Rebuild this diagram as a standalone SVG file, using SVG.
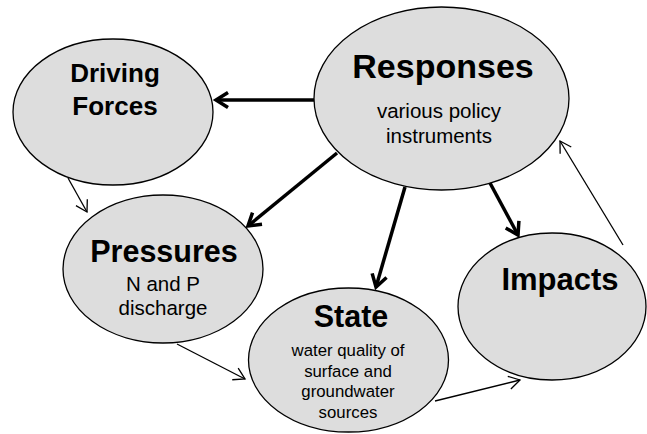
<svg xmlns="http://www.w3.org/2000/svg" width="647" height="434" viewBox="0 0 647 434">
<style>
.node{fill:#dddddd;stroke:#000;stroke-width:1.3}
.t{font-family:"Liberation Sans",Arial,sans-serif;font-weight:bold;fill:#000;text-anchor:middle}
.s{font-family:"Liberation Sans",Arial,sans-serif;fill:#000;text-anchor:middle}
.thick{stroke:#000;stroke-width:3.5;fill:none;marker-end:url(#ah)}
.thin{stroke:#000;stroke-width:1.3;fill:none;marker-end:url(#al)}
</style>
<defs>
<marker id="ah" markerUnits="userSpaceOnUse" viewBox="-16 -10 20 20" refX="0" refY="0" markerWidth="20" markerHeight="20" orient="auto">
<path d="M-12,-7.5 L0,0 L-12,7.5" fill="none" stroke="#000" stroke-width="3.5" stroke-linejoin="miter"/>
</marker>
<marker id="al" markerUnits="userSpaceOnUse" viewBox="-14 -10 18 20" refX="0" refY="0" markerWidth="18" markerHeight="20" orient="auto">
<path d="M-11,-6.5 L0,0 L-11,6.5" fill="none" stroke="#000" stroke-width="1.3"/>
</marker>
</defs>
<g id="driving-forces">
<ellipse class="node" cx="113" cy="112" rx="100" ry="73"/>
<text class="t" x="115" y="82" font-size="26">Driving</text>
<text class="t" x="115" y="115" font-size="26">Forces</text>
</g>
<g id="responses">
<ellipse class="node" cx="441.5" cy="98.5" rx="127.5" ry="91.5"/>
<text class="t" x="443" y="78" font-size="34">Responses</text>
<text class="s" x="439" y="118" font-size="20.5">various policy</text>
<text class="s" x="439" y="142.5" font-size="20.5">instruments</text>
</g>
<g id="pressures">
<ellipse class="node" cx="163" cy="269" rx="100" ry="74"/>
<text class="t" x="164" y="261.5" font-size="30.5">Pressures</text>
<text class="s" x="163" y="290.5" font-size="20.5">N and P</text>
<text class="s" x="163" y="315" font-size="20.5">discharge</text>
</g>
<g id="state">
<ellipse class="node" cx="348.5" cy="360" rx="100" ry="72"/>
<text class="t" x="351" y="326.5" font-size="30.5">State</text>
<text class="s" x="348" y="355.5" font-size="16.8">water quality of</text>
<text class="s" x="348" y="376.5" font-size="16.8">surface and</text>
<text class="s" x="348" y="396.5" font-size="16.8">groundwater</text>
<text class="s" x="348" y="418" font-size="16.8">sources</text>
</g>
<g id="impacts">
<ellipse class="node" cx="552" cy="306.5" rx="94" ry="73.5"/>
<text class="t" x="560" y="290" font-size="31">Impacts</text>
</g>
<g id="connectors">
<line class="thick" x1="314" y1="100" x2="216" y2="100"/>
<line class="thick" x1="337" y1="153" x2="248" y2="226"/>
<line class="thick" x1="405" y1="187" x2="376" y2="287"/>
<line class="thick" x1="490" y1="183" x2="518" y2="235"/>
<line class="thin" x1="623" y1="245" x2="560" y2="141"/>
<line class="thin" x1="68" y1="178" x2="87" y2="212"/>
<line class="thin" x1="177" y1="344" x2="245" y2="379"/>
<line class="thin" x1="435" y1="401" x2="520" y2="380"/>
</g>
</svg>
